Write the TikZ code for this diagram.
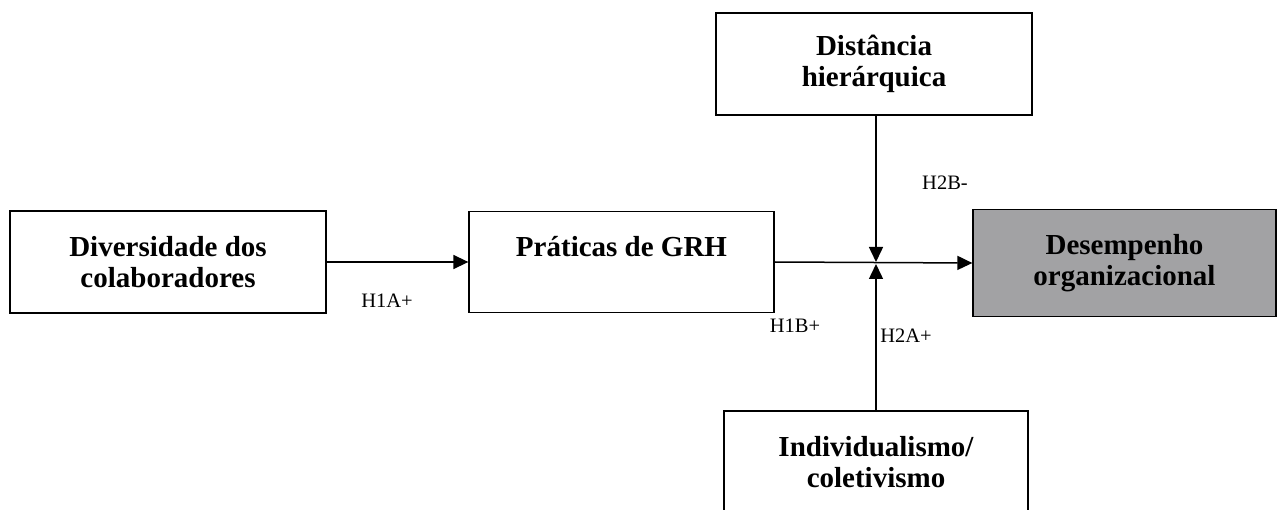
\documentclass[tikz,border=0pt]{standalone}
\usepackage{fontspec}
\setmainfont{Liberation Serif}
\usetikzlibrary{arrows.meta}
\definecolor{boxgray}{RGB}{162,162,164}
\tikzset{
  caixa/.style={draw,line width=1.3pt,align=center,font=\fontsize{29}{31}\selectfont\bfseries,inner sep=0pt},
  hip/.style={font=\fontsize{20.5}{22}\selectfont,inner sep=0pt},
  seta/.style={line width=1.5pt,-{Triangle[length=15pt,width=14pt]}}
}
\begin{document}
\begin{tikzpicture}[x=1pt,y=1pt]
  \clip (0,0) rectangle (1277,-510);
  \fill[white] (0,0) rectangle (1277,-510);
  % caixas
  \node[caixa,minimum width=316pt,minimum height=102pt] (div) at (168,-262) {Diversidade dos\\colaboradores};
  \node[caixa,minimum width=305pt,minimum height=101pt] (grh) at (621.5,-262) {Práticas de GRH\\~};
  \node[caixa,minimum width=316pt,minimum height=102pt] (dist) at (874,-64) {Distância\\hierárquica};
  \node[caixa,minimum width=303pt,minimum height=107pt,fill=boxgray] (des) at (1124.5,-263) {Desempenho\\organizacional};
  \node[caixa,minimum width=304pt,minimum height=102pt] (ind) at (876,-462) {Individualismo/\\coletivismo};
  \coordinate (jun) at (876,-263);
  % setas
  \draw[seta] (div.east) -- (grh.west);
  \draw[seta] (grh.east) -- (des.west);
  \draw[seta] (dist.south -| jun) -- ([yshift=1pt]jun);
  \draw[seta] (ind.north -| jun) -- ([yshift=-1pt]jun);
  % hipoteses
  \node[hip] (h1a) at (387,-301) {H1A+};
  \node[hip] (h2b) at (945,-183) {H2B-};
  \node[hip] (h1b) at (795,-326) {H1B+};
  \node[hip] (h2a) at (906,-336) {H2A+};
\end{tikzpicture}
\end{document}
